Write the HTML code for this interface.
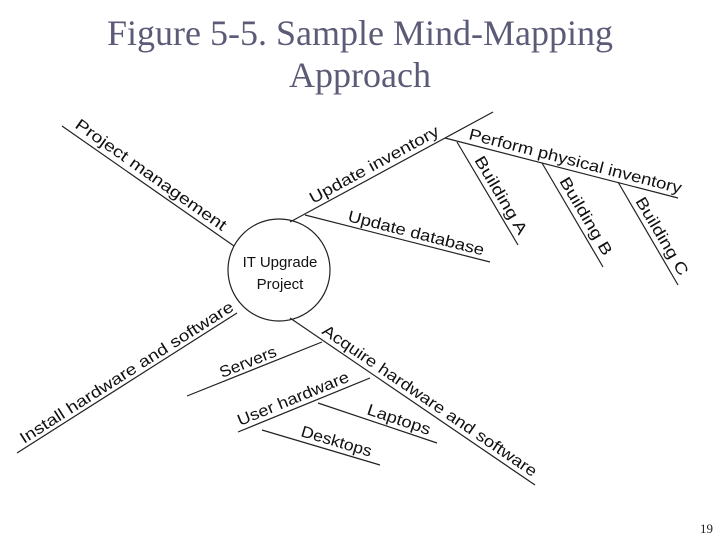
<!DOCTYPE html>
<html><head><meta charset="utf-8"><style>
html,body{margin:0;padding:0;background:#fff;width:720px;height:540px;overflow:hidden}
.t{position:absolute;left:0;width:720px;text-align:center;font-family:"Liberation Serif",serif;font-size:36px;color:#5b5b78;line-height:42px}
</style></head><body>
<div class="t" style="top:12px">Figure 5-5. Sample Mind-Mapping<br>Approach</div>
<svg width="720" height="540" style="position:absolute;left:0;top:0" xmlns="http://www.w3.org/2000/svg">
<g stroke="#222" stroke-width="1.2" fill="none">
<circle cx="279" cy="270" r="51"/>
<line x1="62" y1="126" x2="234" y2="246"/>
<line x1="290" y1="222" x2="493" y2="112"/>
<line x1="305" y1="215" x2="490" y2="262"/>
<line x1="445" y1="138" x2="678" y2="198"/>
<line x1="457" y1="142" x2="518" y2="245"/>
<line x1="542" y1="163" x2="603" y2="267"/>
<line x1="618" y1="182" x2="678" y2="285"/>
<line x1="237" y1="313" x2="17" y2="453"/>
<line x1="187" y1="396" x2="322" y2="342"/>
<line x1="290" y1="318" x2="535" y2="485"/>
<line x1="238" y1="432" x2="370" y2="378"/>
<line x1="318" y1="403" x2="437" y2="443"/>
<line x1="262" y1="430" x2="380" y2="465"/>
</g>
<g font-family="Liberation Sans, sans-serif" font-size="16" fill="#111">
<text x="280" y="267" text-anchor="middle" font-size="15">IT Upgrade</text>
<text x="280" y="289" text-anchor="middle" font-size="15">Project</text>
<text transform="translate(74,127) rotate(35.2)" textLength="181" lengthAdjust="spacingAndGlyphs">Project  management</text>
<text transform="translate(313,204) rotate(-28.6)" textLength="145" lengthAdjust="spacingAndGlyphs">Update inventory</text>
<text transform="translate(347,221) rotate(14.3)" textLength="140" lengthAdjust="spacingAndGlyphs">Update database</text>
<text transform="translate(468,139) rotate(14.4)" textLength="219" lengthAdjust="spacingAndGlyphs">Perform physical inventory</text>
<text transform="translate(474,160) rotate(59.4)" textLength="88" lengthAdjust="spacingAndGlyphs">Building A</text>
<text transform="translate(559,181) rotate(59.4)" textLength="88" lengthAdjust="spacingAndGlyphs">Building B</text>
<text transform="translate(635,201) rotate(59.4)" textLength="88" lengthAdjust="spacingAndGlyphs">Building C</text>
<text transform="translate(24,444) rotate(-32.5)" textLength="250" lengthAdjust="spacingAndGlyphs">Install hardware and software</text>
<text transform="translate(222,378) rotate(-21.7)" textLength="60" lengthAdjust="spacingAndGlyphs">Servers</text>
<text transform="translate(321,333) rotate(34.3)" textLength="256" lengthAdjust="spacingAndGlyphs">Acquire hardware and software</text>
<text transform="translate(240,426) rotate(-22.2)" textLength="119" lengthAdjust="spacingAndGlyphs">User hardware</text>
<text transform="translate(366,414) rotate(18.6)" textLength="66" lengthAdjust="spacingAndGlyphs">Laptops</text>
<text transform="translate(300,436) rotate(16.5)" textLength="73" lengthAdjust="spacingAndGlyphs">Desktops</text>
</g>
<text x="713" y="533" text-anchor="end" font-family="Liberation Serif, serif" font-size="13" fill="#222">19</text>
</svg>
</body></html>
